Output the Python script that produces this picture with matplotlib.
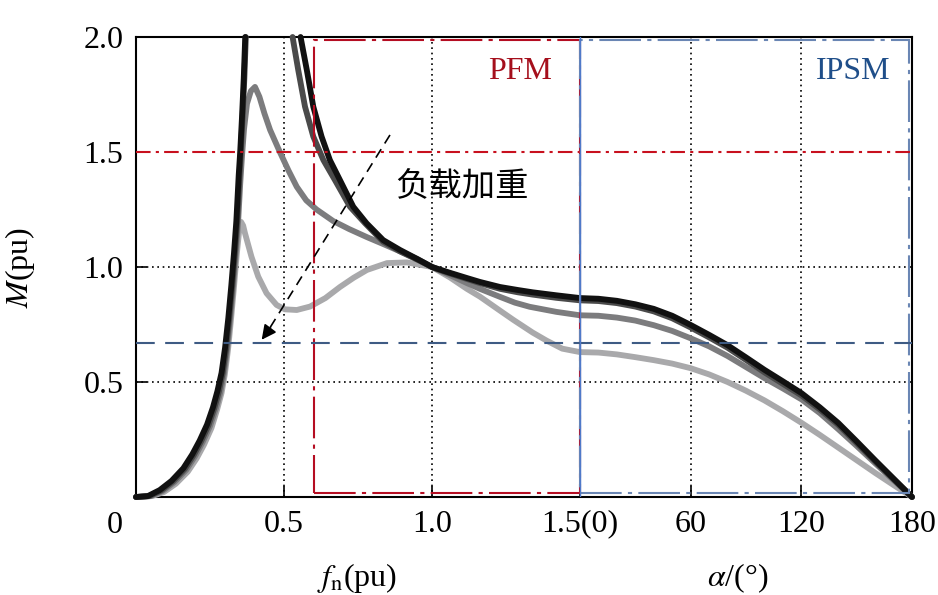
import numpy as np
import matplotlib
matplotlib.use("Agg")
import matplotlib.pyplot as plt
from matplotlib.patches import Rectangle
import matplotlib.transforms as mtransforms

plt.rcParams['font.family'] = ['Liberation Serif', 'DejaVu Serif']
plt.rcParams['mathtext.fontset'] = 'stix'

# ---- data ----
# fn section (0 .. 1.5 pu), nan = curve leaves the top of the plot
fn_black = [0.0, 0.04, 0.08, 0.12, 0.16, 0.19, 0.215, 0.24, 0.26, 0.275, 0.289, 0.301, 0.312, 0.322,
            0.331, 0.339, 0.347, 0.352, 0.358, 0.364, 0.369,
            np.nan, 0.556, 0.577, 0.599, 0.627, 0.655, 0.689, 0.734, 0.779, 0.835, 0.892, 0.95, 1.0,
            1.06, 1.118, 1.162, 1.23, 1.29, 1.34, 1.42, 1.5]
m_black = [0.0, 0.004, 0.03, 0.07, 0.125, 0.185, 0.245, 0.315, 0.39, 0.46, 0.54, 0.65, 0.78, 0.92,
           1.06, 1.2, 1.4, 1.5, 1.65, 1.82, 2.0,
           np.nan, 2.0, 1.857, 1.697, 1.567, 1.465, 1.378, 1.262, 1.19, 1.117, 1.074, 1.035, 1.0,
           0.975, 0.952, 0.935, 0.913, 0.9, 0.89, 0.877, 0.865]

fn_dark = [0.0, 0.045, 0.085, 0.125, 0.165, 0.195, 0.22, 0.245, 0.265, 0.28, 0.293, 0.305, 0.315, 0.325,
           0.334, 0.342, 0.349, 0.354, 0.36, 0.366, 0.371,
           np.nan, 0.529, 0.548, 0.571, 0.599, 0.633, 0.672, 0.723, 0.774, 0.835, 0.892, 0.95, 1.0,
           1.06, 1.118, 1.162, 1.23, 1.29, 1.34, 1.42, 1.5]
m_dark = [0.0, 0.004, 0.028, 0.068, 0.122, 0.182, 0.242, 0.312, 0.388, 0.458, 0.538, 0.648, 0.778, 0.918,
          1.058, 1.198, 1.38, 1.5, 1.65, 1.82, 2.0,
          np.nan, 2.0, 1.857, 1.697, 1.567, 1.465, 1.378, 1.262, 1.19, 1.11, 1.068, 1.032, 1.0,
          0.972, 0.948, 0.93, 0.905, 0.89, 0.88, 0.866, 0.855]

fn_mid = [0.0, 0.05, 0.09, 0.13, 0.17, 0.2, 0.225, 0.25, 0.27, 0.285, 0.297, 0.308, 0.318, 0.328,
          0.337, 0.345, 0.352, 0.358, 0.365, 0.375, 0.388, 0.402, 0.417, 0.434, 0.453, 0.486, 0.515,
          0.543, 0.575, 0.61, 0.666, 0.72, 0.78, 0.835, 0.892, 0.95, 1.0,
          1.06, 1.118, 1.162, 1.23, 1.28, 1.33, 1.42, 1.5]
m_mid = [0.0, 0.004, 0.026, 0.065, 0.118, 0.178, 0.238, 0.308, 0.385, 0.455, 0.535, 0.645, 0.775, 0.915,
         1.055, 1.195, 1.36, 1.48, 1.6, 1.71, 1.765, 1.783, 1.74, 1.667, 1.596, 1.5, 1.42,
         1.349, 1.29, 1.25, 1.2, 1.165, 1.13, 1.1, 1.068, 1.035, 1.0,
         0.965, 0.93, 0.905, 0.87, 0.845, 0.827, 0.805, 0.79]

fn_light = [0.0, 0.055, 0.095, 0.135, 0.175, 0.205, 0.23, 0.255, 0.274, 0.289, 0.3, 0.311, 0.321, 0.331,
            0.34, 0.348, 0.355, 0.362, 0.368, 0.39, 0.413, 0.441, 0.475, 0.503, 0.543, 0.588, 0.64,
            0.689, 0.735, 0.78, 0.848, 0.915, 1.0, 1.06, 1.118, 1.162, 1.23, 1.275, 1.34, 1.387,
            1.44, 1.5]
m_light = [0.0, 0.004, 0.022, 0.058, 0.11, 0.168, 0.228, 0.3, 0.38, 0.452, 0.532, 0.642, 0.772, 0.912,
           1.05, 1.15, 1.196, 1.18, 1.148, 1.045, 0.958, 0.886, 0.835, 0.816, 0.813, 0.828, 0.865,
           0.913, 0.953, 0.987, 1.017, 1.02, 1.0, 0.955, 0.905, 0.871, 0.81, 0.77, 0.715, 0.68,
           0.645, 0.63]

# alpha section (0 .. 180 deg)
alpha = [0, 10, 20, 30, 40, 50, 60, 70, 80, 90, 100, 110, 120, 130, 140, 150, 160, 170, 180]
ma_black = [0.865, 0.862, 0.853, 0.838, 0.818, 0.788, 0.748, 0.705, 0.66, 0.607, 0.553, 0.503, 0.452,
            0.39, 0.322, 0.242, 0.16, 0.08, 0.0]
ma_dark = [0.855, 0.852, 0.843, 0.828, 0.807, 0.777, 0.737, 0.694, 0.649, 0.596, 0.542, 0.492, 0.442,
           0.381, 0.314, 0.235, 0.155, 0.077, 0.0]
ma_mid = [0.79, 0.788, 0.78, 0.767, 0.747, 0.722, 0.69, 0.655, 0.613, 0.565, 0.517, 0.472, 0.425,
          0.365, 0.295, 0.222, 0.147, 0.073, 0.0]
ma_light = [0.63, 0.628, 0.62, 0.608, 0.595, 0.58, 0.56, 0.533, 0.5, 0.462, 0.42, 0.373, 0.323,
            0.27, 0.215, 0.16, 0.105, 0.052, 0.0]

colors = ['#a9a9ab', '#7c7c7e', '#4a4a4a', '#111111']

# alpha axis is squeezed into this width (in fn units)
W = 332 / 296.0
XMAX = 1.5 + W


def ax_alpha(a):
    return 1.5 + np.asarray(a, dtype=float) / 180.0 * W


fig = plt.figure(figsize=(9.38, 5.95), dpi=100)
ax = fig.add_axes([136 / 938, 1 - 497 / 595, 776 / 938, 460 / 595])
ax.set_xlim(0, XMAX)
ax.set_ylim(0, 2.0)

# grid
dot = dict(color='k', lw=1.2, dashes=(1, 2.2), zorder=1)
for xv in [0.5, 1.0, ax_alpha(60), ax_alpha(120)]:
    ax.axvline(xv, **dot)
for yv in [0.5, 1.0]:
    ax.axhline(yv, **dot)

# curves
curves = [(fn_light, m_light, ma_light), (fn_mid, m_mid, ma_mid),
          (fn_dark, m_dark, ma_dark), (fn_black, m_black, ma_black)]
for (f, m, ma), c in zip(curves, colors):
    x = np.concatenate([np.array(f, dtype=float), ax_alpha(alpha)])
    y = np.concatenate([np.array(m, dtype=float), np.array(ma, dtype=float)])
    ax.plot(x, y, color=c, lw=4.2, solid_capstyle='round', solid_joinstyle='round', zorder=3,
            clip_on=False)

# region boxes and reference lines
red = '#b50d22'
blue = '#6a86b4'
ax.add_patch(Rectangle((0.6, 0.017), 0.9, 1.97, fill=False, ec=red, lw=1.5,
                       linestyle=(0, (20, 3, 2, 3)), zorder=4))
ax.add_patch(Rectangle((1.5, 0.017), ax_alpha(178.4) - 1.5, 1.97, fill=False, ec=blue, lw=1.5,
                       linestyle=(0, (20, 3, 2, 3)), zorder=4))
ax.axvline(1.5, color='#4f79c9', lw=1.0, zorder=5)
ax.axhline(1.5, color='#c8101e', lw=1.5, dashes=(7, 2.5, 1.5, 2.5), zorder=4)
ax.axhline(0.67, color='#3e5b84', lw=1.5, dashes=(9, 5), zorder=4)

# load arrow
ax.plot([0.858, 0.44], [1.574, 0.71], color='k', lw=1.2, dashes=(6, 4), zorder=6)
ax.annotate('', xy=(0.419, 0.674), xytext=(0.46, 0.745),
            arrowprops=dict(arrowstyle='-|>', color='k', lw=1.2, mutation_scale=22), zorder=6)

# labels in the plot
ax.text(1.297, 1.848, 'PFM', color='#a50f1c', fontsize=23, ha='center', va='center')
ax.text(2.422, 1.848, 'IPSM', color='#1f4e89', fontsize=23, ha='center', va='center')
ax.text(1.101, 1.348, '负载加重', fontsize=24, ha='center', va='center',
        family=['Noto Sans CJK SC', 'DejaVu Sans'])

# ticks
xticks = [0.5, 1.0, 1.5, ax_alpha(60), ax_alpha(120), ax_alpha(180)]
xlabels = ['0.5', '1.0', '1.5(0)', '60', '120', '180']
yticks = [0.5, 1.0, 1.5, 2.0]
ylabels = ['0.5', '1.0', '1.5', '2.0']
ax.set_xticks(xticks)
ax.set_xticklabels(xlabels)
ax.set_yticks(yticks)
ax.set_yticklabels(ylabels)
ax.tick_params(direction='in', length=8, width=1.2, labelsize=23, pad=9)
for s in ax.spines.values():
    s.set_linewidth(1.5)

trans = mtransforms.blended_transform_factory(ax.transData, ax.transAxes)
ax.text(-0.071, -0.03, '0', transform=trans, fontsize=23, ha='center', va='top')

fig.text(357 / 938, 1 - 578 / 595, r'$f_{\mathrm{n}}$(pu)', fontsize=23, ha='center', va='center')
fig.text(738 / 938, 1 - 578 / 595, r'$\alpha$/(°)', fontsize=23, ha='center', va='center')
fig.text(20 / 938, 1 - 267 / 595, r'$M$(pu)', fontsize=23, ha='center', va='center', rotation=90)

fig.savefig('out.png', dpi=100)
